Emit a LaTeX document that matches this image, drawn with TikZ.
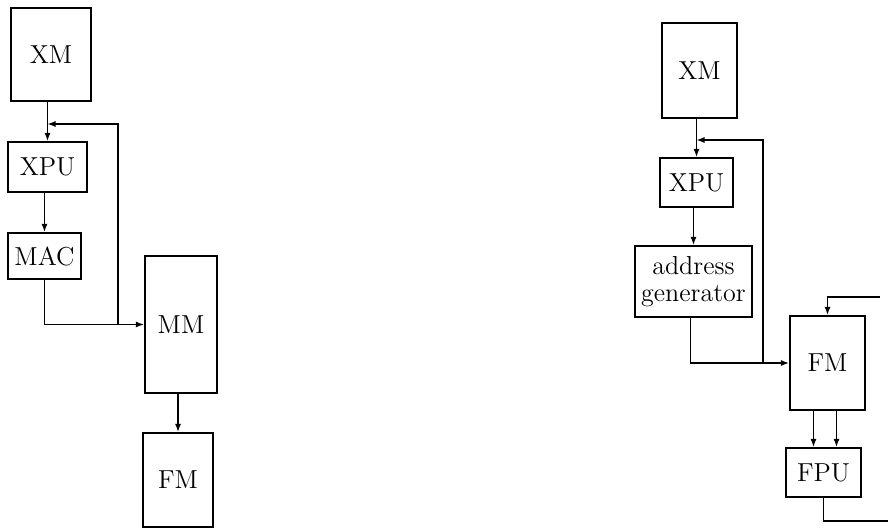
\documentclass[tikz,border=0pt]{standalone}
\usetikzlibrary{arrows.meta}
\tikzset{
    box/.style={draw, line width=1.1pt, inner sep=0pt, align=center,
        font=\fontsize{13}{13.5}\selectfont},
    arr/.style={-{Latex[length=4pt,width=3pt]}, line width=0.6pt},
    wire/.style={line width=0.6pt}
}
\begin{document}
\begin{tikzpicture}[x=0.5pt, y=-0.5pt]
    \useasboundingbox (0,0) rectangle (888,528);
    % left chain
    \node[box, minimum width=40pt, minimum height=46.5pt] (xmL) at (51,54.5) {XM};
    \node[box, minimum width=39.5pt, minimum height=25pt] (xpuL) at (47.5,167) {XPU};
    \node[box, minimum width=36.5pt, minimum height=23pt] (macL) at (44.5,256) {MAC};
    \node[box, minimum width=36pt, minimum height=68.5pt] (mmL) at (181,324.5) {MM};
    \node[box, minimum width=35pt, minimum height=47pt] (fmL) at (178,480) {FM};
    \coordinate (jL) at (47.5,124);
    \coordinate (mergeL) at (118,324.5);
    \draw[arr] (xpuL.north |- xmL.south) -- (xpuL.north);
    \draw[arr] (xpuL.south -| macL.north) -- (macL.north);
    \draw[arr] (macL.south) |- (mmL.west);
    \draw[arr] (mergeL) |- (jL);
    \draw[arr] (mmL.south -| fmL.north) -- (fmL.north);
    % right chain
    \node[box, minimum width=37.5pt, minimum height=47.5pt] (xmR) at (699.5,70.5) {XM};
    \node[box, minimum width=36.5pt, minimum height=24.5pt] (xpuR) at (696.5,182.5) {XPU};
    \node[box, minimum width=58.5pt, minimum height=35.5pt] (agR) at (693.5,281.5) {address\\generator};
    \node[box, minimum width=37.5pt, minimum height=47pt] (fmR) at (827.5,363) {FM};
    \node[box, minimum width=37.5pt, minimum height=24.5pt] (fpuR) at (823.5,472.5) {FPU};
    \coordinate (jR) at (696.5,140);
    \coordinate (mergeR) at (763,363);
    \coordinate (inR) at (880,297);
    \coordinate (outR) at (888,521);
    \draw[arr] (xpuR.north |- xmR.south) -- (xpuR.north);
    \draw[arr] (xpuR.south -| agR.north) -- (agR.north);
    \draw[arr] ([xshift=-1.5pt]agR.south) |- (fmR.west);
    \draw[arr] (mergeR) |- (jR);
    \foreach \dx in {-7,4.5} {
        \draw[arr] ([xshift=\dx pt]fmR.south) -- ([xshift=\dx pt]fmR.south |- fpuR.north);
    }
    \draw[wire] (fpuR.south) |- (outR);
    \draw[arr] (inR) -| (fmR.north);
\end{tikzpicture}
\end{document}
